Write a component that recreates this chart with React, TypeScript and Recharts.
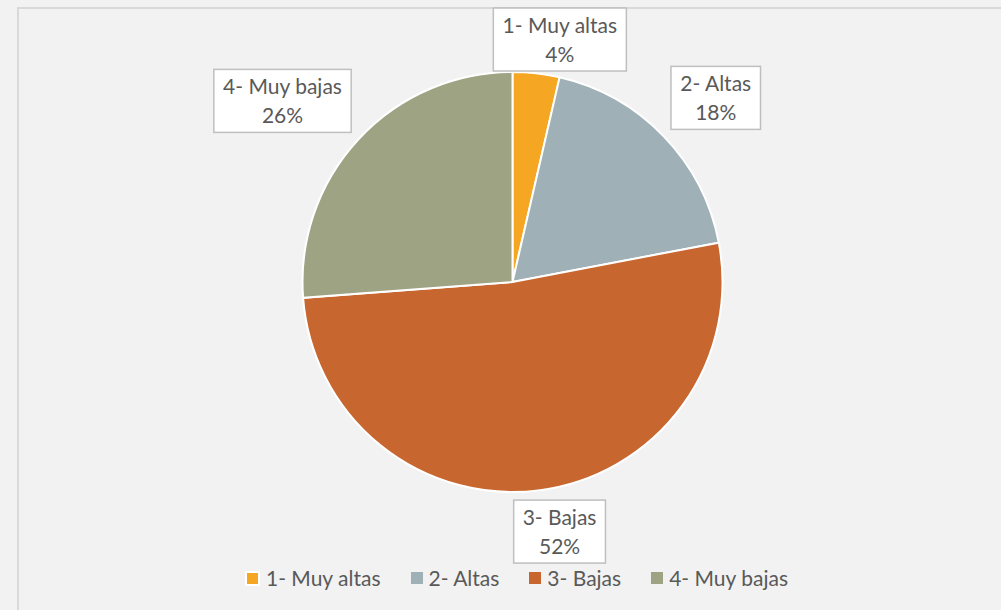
import React from 'react';
import { PieChart, Pie, Cell, Legend } from 'recharts';

const categories = ['1- Muy altas', '2- Altas', '3- Bajas', '4- Muy bajas'];
const values = [3.6, 18.4, 51.8, 26.2];
const colors = ['#F5A623', '#A0B0B7', '#C8662F', '#9DA383'];

const data = categories.map((name, i) => ({ name, value: values[i] }));

const FONT_FAMILY = 'Lato, "Open Sans", sans-serif';
const FS = 21;
const TEXT_COLOR = '#595959';

let ctx: CanvasRenderingContext2D | null = null;
function measure(t: string): number {
  if (!ctx) {
    const c = document.createElement('canvas');
    ctx = c.getContext('2d');
  }
  if (!ctx) return t.length * 10;
  ctx.font = `${FS}px Lato`;
  return ctx.measureText(t).width;
}

const clamp = (v: number) => Math.max(-1, Math.min(1, v));

function renderLabel(props: any) {
  const { cx, cy, midAngle, outerRadius, percent, index } = props;
  const rad = (midAngle * Math.PI) / 180;
  const s = Math.cos(rad);
  const c = Math.sin(rad);
  const r = outerRadius + 10;
  const ax = cx + r * s;
  const ay = cy - r * c;
  const name = categories[index];
  const pct = `${Math.round(percent * 100)}%`;
  const w = Math.max(measure(name), measure(pct)) + 18;
  const h = 63;
  const bx = ax + (w / 2) * clamp(3 * s) - w / 2;
  let by = ay - (h / 2) * clamp(3 * c) - h / 2;
  if (by < 8) by = 8;
  return (
    <g key={`lbl-${index}`}>
      <rect x={bx} y={by} width={w} height={h} fill="#ffffff" stroke="#bfbfbf" strokeWidth={1.5} />
      <text x={bx + w / 2} y={by + 25} textAnchor="middle" fill={TEXT_COLOR} fontSize={FS} fontFamily={FONT_FAMILY}>
        {name}
      </text>
      <text x={bx + w / 2} y={by + 54} textAnchor="middle" fill={TEXT_COLOR} fontSize={FS} fontFamily={FONT_FAMILY}>
        {pct}
      </text>
    </g>
  );
}

function LegendContent() {
  return (
    <div style={{ display: 'flex', alignItems: 'center', height: 24, lineHeight: '24px', fontFamily: FONT_FAMILY, fontSize: FS, color: TEXT_COLOR, whiteSpace: 'nowrap' }}>
      {categories.map((name, i) => (
        <div key={name} style={{ display: 'flex', alignItems: 'center', marginRight: i < categories.length - 1 ? 30 : 0 }}>
          <span
            style={{
              display: 'inline-block',
              width: i === 0 ? 11 : 12,
              height: i === 0 ? 11 : 12,
              background: colors[i],
              border: i === 0 ? '2.5px solid #ffffff' : 'none',
              boxSizing: 'content-box',
            }}
          />
          <span style={{ marginLeft: 6 }}>{name}</span>
        </div>
      ))}
    </div>
  );
}

export default function App() {
  return (
    <div style={{ position: 'absolute', left: 0, top: 0, width: 1001, height: 610, background: '#f2f2f2', overflow: 'hidden' }}>
      <div style={{ position: 'absolute', left: 17, top: 7, width: 1200, height: 800, border: '2px solid #d9d9d9', boxSizing: 'border-box' }} />
      <div style={{ position: 'absolute', left: 0, top: 0 }}>
        <PieChart width={1001} height={610} margin={{ top: 0, right: 0, bottom: 0, left: 0 }}>
          <Pie
            data={data}
            dataKey="value"
            nameKey="name"
            cx={512.5}
            cy={282}
            outerRadius={210}
            startAngle={90}
            endAngle={-270}
            stroke="#ffffff"
            strokeWidth={2}
            label={renderLabel}
            labelLine={false}
            isAnimationActive={false}
          >
            {data.map((d, i) => (
              <Cell key={d.name} fill={colors[i]} />
            ))}
          </Pie>
          <Legend
            content={() => <LegendContent />}
            wrapperStyle={{ position: 'absolute', left: 245, top: 566, width: 'auto', bottom: 'auto' }}
          />
        </PieChart>
      </div>
    </div>
  );
}
